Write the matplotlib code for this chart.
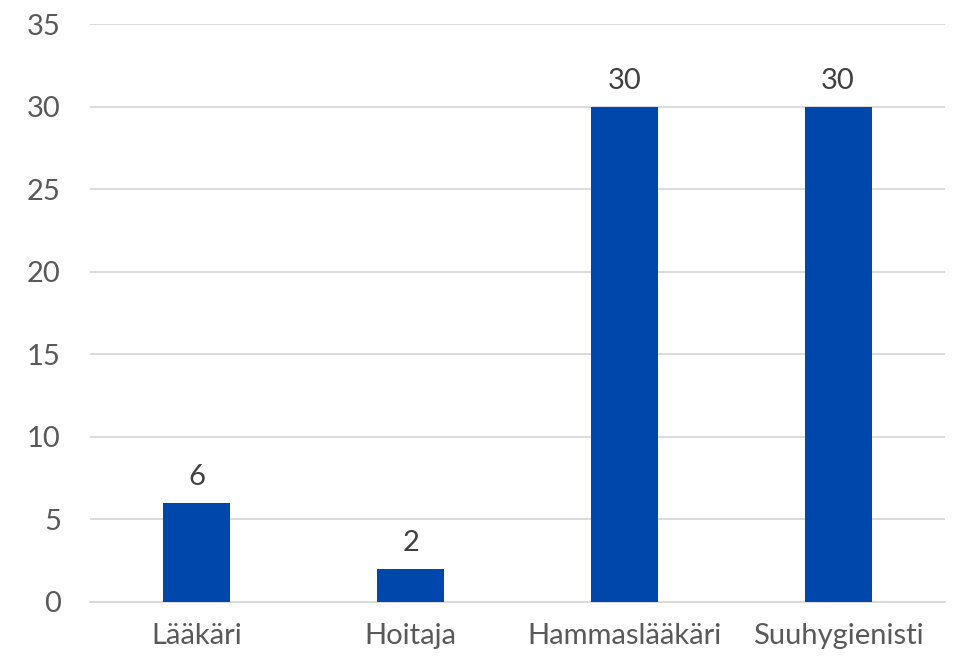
import matplotlib
matplotlib.use("Agg")
import matplotlib.pyplot as plt

categories = ["Lääkäri", "Hoitaja", "Hammaslääkäri", "Suuhygienisti"]
values = [6, 2, 30, 30]
yticks = [0, 5, 10, 15, 20, 25, 30, 35]

plt.rcParams['font.family'] = ['Lato', 'DejaVu Sans']

fig = plt.figure(figsize=(9.54, 6.6), dpi=100)
ax = fig.add_axes([90/954, 1-602/660, 855/954, (602-24)/660])

x = range(len(categories))
bars = ax.bar(x, values, width=0.313, color="#0047AB", zorder=3)
for xi, v in zip(x, values):
    ax.annotate(str(v), (xi, v), xytext=(0, 9), textcoords="offset points",
                ha="center", va="bottom", fontsize=21, color="#404040")

ax.set_xlim(-0.5, len(categories) - 0.5)
ax.set_ylim(0, 35)
ax.set_yticks(yticks)
ax.set_xticks(list(x))
ax.set_xticklabels(categories)
ax.tick_params(axis='both', length=0, labelsize=21, colors="#595959")
ax.tick_params(axis='y', pad=21)
ax.tick_params(axis='x', pad=15)
ax.grid(axis='y', color="#D9D9D9", linewidth=1.3, zorder=0)
for s in ["top", "right", "left"]:
    ax.spines[s].set_visible(False)
ax.spines["bottom"].set_color("#D9D9D9")
ax.spines["bottom"].set_linewidth(1.3)

fig.savefig("out.png", dpi=100)
